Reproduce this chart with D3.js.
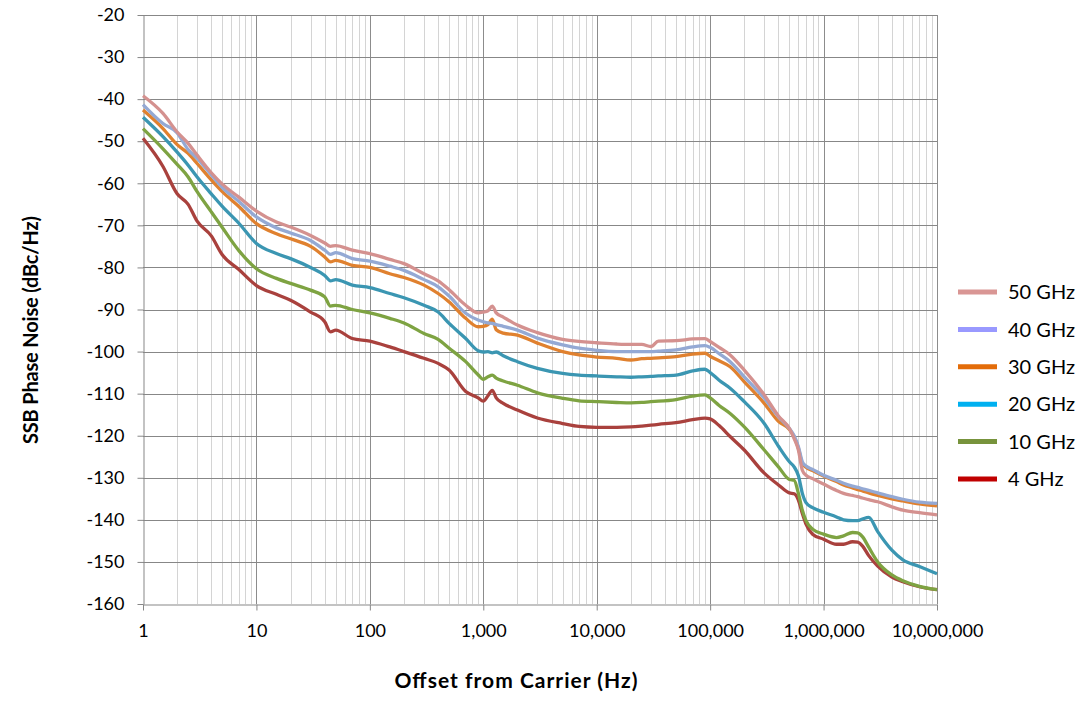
<!DOCTYPE html>
<html>
<head>
<meta charset="utf-8">
<script src="https://cdn.jsdelivr.net/npm/d3@7"></script>
<style>
  body { margin: 0; background: #fff; }
  svg { font-family: Lato, "Open Sans", sans-serif; }
</style>
</head>
<body>
<svg id="svg" width="1088" height="705"></svg>
<script>
// offset frequencies (Hz), shared by every trace
var freqs = [1, 1.5, 2, 2.5, 3, 4, 5, 7, 10,
  15, 20, 30, 40, 45, 50, 70, 100,
  150, 200, 300, 400, 500, 700, 900, 1000,
  1100, 1200, 1300, 1500, 2000, 3000, 5000, 7000, 10000,
  15000, 20000, 25000, 30000, 35000, 50000, 70000, 90000, 100000,
  120000, 150000, 200000, 300000, 400000, 500000, 550000, 600000, 650000, 700000, 800000,
  1e6, 1.3e6, 1.5e6, 1.8e6, 2e6, 2.2e6, 2.5e6, 3e6, 4e6, 5e6, 7e6, 1e7];

// SSB phase noise, dBc/Hz
var ghz50 = [-39.2, -43.4, -47.8, -50.5, -53.3, -57.5, -60.2, -63.3, -66.6,
  -69.2, -70.4, -72.4, -74.2, -75.0, -74.8, -75.9, -76.7,
  -78.1, -79.1, -81.5, -83.2, -85.3, -89.0, -90.8, -90.6,
  -90.3, -89.2, -90.8, -91.8, -93.7, -95.5, -97.1, -97.6, -97.9,
  -98.2, -98.3, -98.3, -98.8, -97.5, -97.4, -97.0, -96.9, -97.6,
  -99.0, -100.8, -104.4, -110.3, -115.3, -118.3, -120.7, -123.4, -128.2, -129.4, -130.2,
  -131.5, -133.0, -133.7, -134.2, -134.5, -134.8, -135.2, -135.7, -136.9, -137.7, -138.3, -138.8];
var ghz40 = [-41.3, -45.8, -48.0, -52.0, -54.1, -58.0, -61.0, -64.3, -68.0,
  -70.6, -71.8, -73.6, -75.9, -76.9, -76.5, -77.9, -78.5,
  -79.7, -80.7, -82.9, -84.6, -86.8, -90.9, -92.5, -92.9,
  -93.2, -93.3, -93.6, -94.0, -94.9, -96.8, -98.4, -99.2, -99.7,
  -100.0, -100.0, -100.0, -100.0, -99.9, -99.6, -98.9, -98.6, -99.0,
  -100.5, -102.4, -106.0, -111.1, -115.5, -118.3, -120.0, -122.6, -126.2, -127.2, -128.0,
  -129.4, -130.6, -131.3, -132.0, -132.3, -132.6, -133.0, -133.6, -134.5, -135.1, -135.8, -136.1];
var ghz30 = [-42.6, -47.0, -50.8, -52.9, -55.3, -59.2, -62.0, -65.5, -69.6,
  -72.0, -73.2, -75.0, -77.5, -78.7, -78.3, -79.5, -80.0,
  -81.5, -82.4, -84.2, -86.2, -88.2, -92.1, -94.1, -94.0,
  -93.6, -92.3, -94.8, -95.6, -96.1, -98.0, -100.0, -100.8, -101.3,
  -101.6, -102.0, -101.7, -101.6, -101.5, -101.2, -100.6, -100.4, -101.1,
  -102.2, -103.6, -107.2, -112.3, -116.6, -118.5, -120.3, -123.0, -126.6, -127.5, -128.3,
  -129.6, -130.9, -131.7, -132.4, -132.8, -133.1, -133.6, -134.2, -135.0, -135.5, -136.2, -136.7];
var ghz20 = [-44.3, -48.9, -52.6, -55.7, -58.5, -62.5, -65.5, -69.5, -74.3,
  -76.7, -77.9, -80.0, -81.9, -83.2, -82.9, -84.2, -84.8,
  -86.2, -87.2, -89.0, -90.6, -93.3, -96.9, -99.8, -100.1,
  -100.0, -100.3, -100.1, -101.0, -102.4, -104.0, -105.2, -105.6, -105.8,
  -106.0, -106.1, -106.0, -105.9, -105.8, -105.6, -104.6, -104.2, -105.0,
  -106.8, -108.7, -111.9, -117.1, -122.5, -126.2, -127.4, -129.5, -133.7, -135.9, -137.1,
  -138.2, -139.3, -140.0, -140.2, -140.2, -139.8, -139.4, -142.8, -147.2, -149.5, -151.1, -152.8];
var ghz10 = [-47.0, -51.8, -55.5, -58.5, -62.0, -66.8, -70.5, -76.0, -80.3,
  -82.6, -83.8, -85.4, -87.0, -89.2, -89.0, -90.0, -90.8,
  -92.1, -93.2, -95.7, -97.1, -99.2, -102.4, -105.5, -106.6,
  -106.0, -105.6, -106.3, -107.0, -108.0, -109.8, -111.1, -111.7, -111.9,
  -112.1, -112.2, -112.1, -111.9, -111.8, -111.4, -110.6, -110.3, -111.0,
  -112.8, -114.7, -117.9, -123.4, -127.4, -130.4, -130.6, -133.7, -137.7, -140.2, -142.2,
  -143.4, -144.2, -143.8, -143.0, -143.1, -144.0, -146.5, -150.0, -153.1, -154.5, -155.8, -156.6];
var ghz4 = [-49.3, -56.0, -62.5, -65.0, -69.0, -72.5, -77.0, -80.5, -84.3,
  -86.4, -87.8, -90.6, -92.9, -95.3, -94.9, -96.9, -97.5,
  -98.9, -100.0, -101.6, -102.8, -104.4, -109.5, -111.0, -111.8,
  -110.5, -109.2, -111.0, -112.3, -113.9, -115.8, -117.1, -117.8, -118.0,
  -118.0, -117.9, -117.7, -117.5, -117.3, -116.9, -116.2, -115.8, -116.0,
  -117.6, -120.2, -123.4, -128.9, -131.7, -133.6, -133.8, -135.3, -138.5, -141.0, -143.4,
  -144.6, -145.8, -145.8, -145.2, -145.3, -146.2, -148.5, -151.0, -153.6, -154.7, -155.9, -156.6];

var seriesNames = ["50 GHz", "40 GHz", "30 GHz", "20 GHz", "10 GHz", "4 GHz"];
var seriesData = [ghz50, ghz40, ghz30, ghz20, ghz10, ghz4];
var lineColors = ["#d4918f", "#94a9d4", "#e0812f", "#3b96b2", "#7ea342", "#a9413d"];
var legendColors = ["#d99694", "#9999ff", "#e36c09", "#00b0f0", "#77933c", "#c00000"];

var xTicks = [1, 10, 100, 1000, 10000, 100000, 1000000, 10000000];
var yTicks = d3.range(-160, -19, 10);

//======================================================================
var svg = d3.select("#svg");
// plot box (window.top is read-only, hence the prefixes)
var plotL = 143, plotR = 937, plotT = 15, plotB = 604;

var x = d3.scaleLog().domain([1, 1e7]).range([plotL, plotR]);
var y = d3.scaleLinear().domain([-160, -20]).range([plotB, plotT]);

// minor vertical grid (2..9 in each decade)
var minor = [];
for (var d = 0; d < 7; d++) {
  for (var m = 2; m <= 9; m++) minor.push(m * Math.pow(10, d));
}
svg.append("g").selectAll("line").data(minor).enter().append("line")
  .attr("x1", function(v) { return Math.round(x(v)) + 0.5; })
  .attr("x2", function(v) { return Math.round(x(v)) + 0.5; })
  .attr("y1", plotT).attr("y2", plotB)
  .attr("stroke", "#d4d4d4").attr("stroke-width", 1);

// major grid
svg.append("g").selectAll("line").data(xTicks.slice(1)).enter().append("line")
  .attr("x1", function(v) { return Math.round(x(v)) + 0.5; })
  .attr("x2", function(v) { return Math.round(x(v)) + 0.5; })
  .attr("y1", plotT).attr("y2", plotB)
  .attr("stroke", "#8c8c8c").attr("stroke-width", 1);
svg.append("g").selectAll("line").data(yTicks.slice(1)).enter().append("line")
  .attr("x1", plotL).attr("x2", plotR)
  .attr("y1", function(v) { return Math.round(y(v)) + 0.5; })
  .attr("y2", function(v) { return Math.round(y(v)) + 0.5; })
  .attr("stroke", "#878787").attr("stroke-width", 1);

// axes
var xAxis = svg.append("g")
  .attr("transform", "translate(0," + (Math.round(plotB) + 0.5) + ")")
  .call(d3.axisBottom(x).tickValues(xTicks).tickFormat(d3.format(","))
    .tickSize(6).tickSizeOuter(0).tickPadding(14));
var yAxis = svg.append("g")
  .attr("transform", "translate(" + (plotL + 0.5) + ",0)")
  .call(d3.axisLeft(y).tickValues(yTicks).tickSize(6).tickSizeOuter(0).tickPadding(13)
    .tickFormat(function(v) { return v; }));
[xAxis, yAxis].forEach(function(a) {
  a.select(".domain").attr("stroke", "#878787");
  a.selectAll(".tick line").attr("stroke", "#878787");
  a.selectAll("text").attr("font-family", "Lato, sans-serif")
    .attr("font-size", 18).attr("fill", "#000");
});

// traces, 4 GHz drawn first
var line = d3.line()
  .x(function(p) { return x(p[0]); })
  .y(function(p) { return y(p[1]); })
  .curve(d3.curveMonotoneX);
for (var i = seriesData.length - 1; i >= 0; i--) {
  var pts = freqs.map(function(f, k) { return [f, seriesData[i][k]]; });
  svg.append("path").datum(pts)
    .attr("d", line)
    .attr("fill", "none")
    .attr("stroke", lineColors[i])
    .attr("stroke-width", 3.3)
    .attr("stroke-linejoin", "round");
}

// legend
var leg = svg.append("g").selectAll("g").data(seriesNames).enter().append("g")
  .attr("transform", function(s, i) { return "translate(958," + (292 + i * 37.4) + ")"; });
leg.append("line")
  .attr("x1", 0).attr("x2", 39).attr("y1", 0).attr("y2", 0)
  .attr("stroke", function(s, i) { return legendColors[i]; })
  .attr("stroke-width", 5);
leg.append("text")
  .attr("x", 50).attr("y", 0).attr("dy", "0.36em")
  .attr("font-size", 20)
  .text(function(s) { return s; });

// axis titles
svg.append("text")
  .attr("x", 516).attr("y", 688)
  .attr("text-anchor", "middle")
  .attr("font-size", 21).attr("font-weight", "bold")
  .attr("textLength", 243).attr("lengthAdjust", "spacing")
  .text("Offset from Carrier (Hz)");
svg.append("text")
  .attr("transform", "translate(38,330) rotate(-90)")
  .attr("text-anchor", "middle")
  .attr("font-size", 20).attr("font-weight", "bold")
  .attr("textLength", 228).attr("lengthAdjust", "spacing")
  .text("SSB Phase Noise (dBc/Hz)");
</script>
</body>
</html>
